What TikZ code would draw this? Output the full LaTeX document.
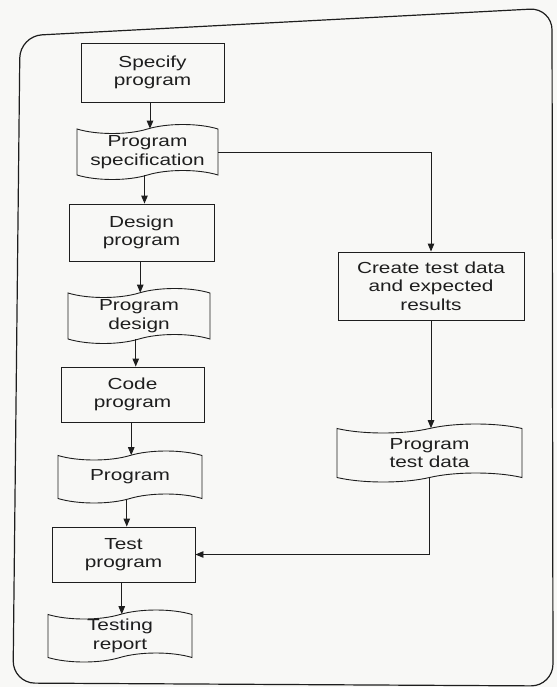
\documentclass[tikz,border=0pt]{standalone}
\usepackage{fontspec}
\newfontfamily\diagfont[FakeStretch=1.3]{Liberation Sans}
\usetikzlibrary{shapes.symbols,arrows.meta,calc}
\definecolor{paper}{RGB}{248,248,246}
\definecolor{ink}{RGB}{30,30,30}
\begin{document}
\begin{tikzpicture}[x=1pt,y=-1pt,
  every node/.style={font=\diagfont\fontsize{16}{18.5}\selectfont, text=ink, align=center, inner sep=0pt},
  procbox/.style={draw=ink, line width=0.9pt, rectangle},
  docbox/.style={draw=ink, line width=0.9pt, tape, tape bend top=in and out, tape bend bottom=in and out, tape bend height=9pt},
  arr/.style={draw=ink, line width=0.9pt, -{Triangle[length=8pt,width=6.5pt]}},
  frameline/.style={draw=ink, line width=1.2pt, rounded corners=22pt}
  ]
\fill[paper] (0,0) rectangle (557,687);
\useasboundingbox (0,0) rectangle (557,687);
\draw[frameline] (13,683) -- (20,36) -- (552,8) -- (553,686) -- cycle;

\node[procbox, minimum width=143pt, minimum height=59pt] (spec) at (152.5,72.5) {Specify\\program};
\node[docbox, minimum width=141pt, minimum height=55pt] (pspec) at (147.5,152) {Program\\specification};
\node[procbox, minimum width=145pt, minimum height=57pt] (design) at (141.5,232.5) {Design\\program};
\node[docbox, minimum width=142pt, minimum height=55pt] (pdesign) at (139,316) {Program\\design};
\node[procbox, minimum width=143pt, minimum height=55pt] (code) at (132.5,394.5) {Code\\program};
\node[docbox, minimum width=144pt, minimum height=52pt] (prog) at (130,477) {Program};
\node[procbox, minimum width=143pt, minimum height=55pt] (test) at (123.5,554.5) {Test\\program};
\node[docbox, minimum width=144pt, minimum height=52pt] (report) at (120,636) {Testing\\report};
\node[procbox, minimum width=186pt, minimum height=68pt] (create) at (431,286) {Create test data\\and expected\\results};
\node[docbox, minimum width=185pt, minimum height=58pt] (ptd) at (429.5,453) {Program\\test data};

\foreach \a/\b in {spec/pspec, pspec/design, design/pdesign, pdesign/code, code/prog, prog/test, test/report}{
  \path (\a.south) -- (\b.north) coordinate[pos=0.5] (mid);
  \draw[arr] (mid |- \a.south) -- (mid |- \b.north);
}
\draw[arr] (pspec.east) -| (create.north);
\draw[arr] (create.south) -- (create.south |- ptd.north);
\draw[arr] (ptd.south) |- (test.east);
\end{tikzpicture}
\end{document}
